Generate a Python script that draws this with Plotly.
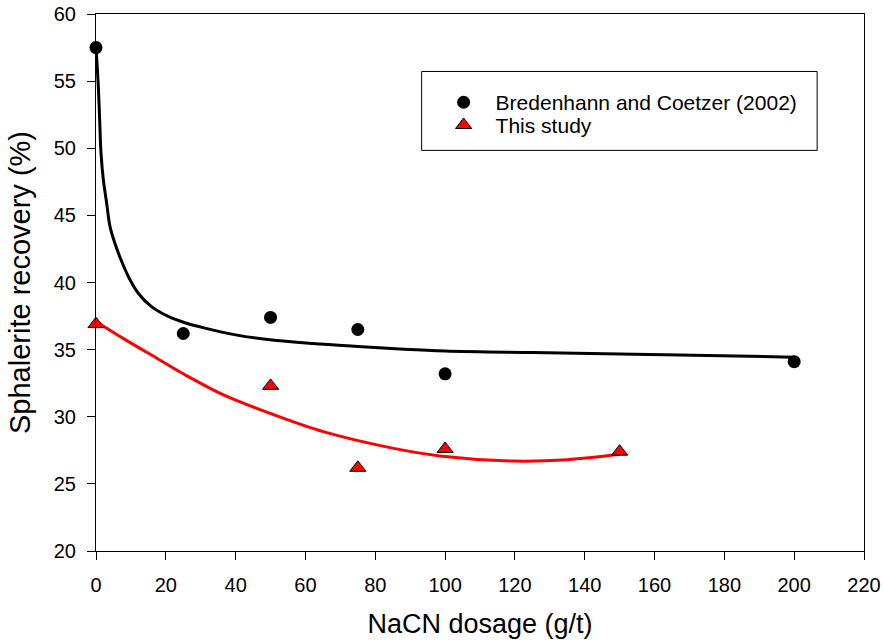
import plotly.graph_objects as go

# Measured data
bc_x = [0, 25, 50, 75, 100, 200]
bc_y = [57.5, 36.2, 37.4, 36.5, 33.2, 34.1]
ts_x = [0, 50, 75, 100, 150]
ts_y = [36.9, 32.3, 26.2, 27.6, 27.4]

# Fitted curves
bc_fit_x = [0, 0.3, 0.67, 1.05, 1.43, 2.1, 3.06, 4.0, 5.44, 7.16, 9.26, 12.1, 15.9, 20.7, 25.5, 31.2,
            40, 49.8, 62, 75, 87, 100, 125, 150, 175, 200]
bc_fit_y = [57.5, 56.3, 54.6, 52.1, 49.65, 47.66, 45.9, 44.18, 42.9, 41.69, 40.45, 39.2, 38.2, 37.47, 37.0, 36.6,
            36.1, 35.73, 35.45, 35.23, 35.05, 34.9, 34.78, 34.68, 34.56, 34.44]
ts_fit_x = [0, 8, 17.4, 25, 36.5, 49.8, 65.1, 84.2, 98.5, 119.5, 135, 150]
ts_fit_y = [37.1, 35.8, 34.36, 33.2, 31.63, 30.26, 28.89, 27.7, 27.08, 26.7, 26.8, 27.2]

x_ticks = list(range(0, 221, 20))
y_ticks = list(range(20, 61, 5))

font = "Liberation Sans, Arial, sans-serif"

fig = go.Figure()
fig.add_trace(go.Scatter(x=bc_fit_x, y=bc_fit_y, mode="lines", line=dict(color="black", width=3, shape="spline", smoothing=1.0),
                         showlegend=False, hoverinfo="skip"))
fig.add_trace(go.Scatter(x=ts_fit_x, y=ts_fit_y, mode="lines", line=dict(color="red", width=3, shape="spline", smoothing=1.0),
                         showlegend=False, hoverinfo="skip"))
fig.add_trace(go.Scatter(x=bc_x, y=bc_y, mode="markers", name="Bredenhann and Coetzer (2002)", legend="legend",
                         marker=dict(symbol="circle", size=13, color="black"), cliponaxis=False))
fig.add_trace(go.Scatter(x=ts_x, y=ts_y, mode="markers", name="This study", legend="legend2",
                         marker=dict(symbol="triangle-up", size=14, color="red", line=dict(color="black", width=1)),
                         cliponaxis=False))

axis_common = dict(showline=True, linecolor="black", linewidth=1, mirror=True, ticks="outside", ticklen=8,
                   tickcolor="black", tickwidth=1, showgrid=False, zeroline=False, automargin=False,
                   ticklabeloverflow="allow",
                   tickfont=dict(family=font, size=20, color="black"))

legend_common = dict(xanchor="left", yanchor="middle", bgcolor="rgba(0,0,0,0)", itemwidth=54,
                     font=dict(family=font, size=21, color="black"))

fig.update_layout(
    width=883, height=644,
    margin=dict(l=96, r=19, t=14, b=93),
    paper_bgcolor="white", plot_bgcolor="white",
    font=dict(family=font, color="black"),
    xaxis=dict(range=[0, 220], tickvals=x_ticks, ticklabelstandoff=8,
               title=dict(text="NaCN dosage (g/t)", font=dict(family=font, size=27), standoff=19), **axis_common),
    yaxis=dict(range=[20, 60], tickvals=y_ticks, ticklabelstandoff=7,
               title=dict(text="Sphalerite recovery (%)", font=dict(family=font, size=29), standoff=14), **axis_common),
    legend=dict(x=0.437, y=0.835, **legend_common),
    legend2=dict(x=0.437, y=0.7927, **legend_common),
    shapes=[dict(type="rect", xref="paper", yref="paper", x0=0.424, x1=0.939, y0=0.746, y1=0.893,
                 line=dict(color="black", width=1), fillcolor="rgba(0,0,0,0)")],
)

fig.write_html("out.html", config={"displayModeBar": False},
               post_script="document.body.style.margin='0';document.body.style.overflow='hidden';")
